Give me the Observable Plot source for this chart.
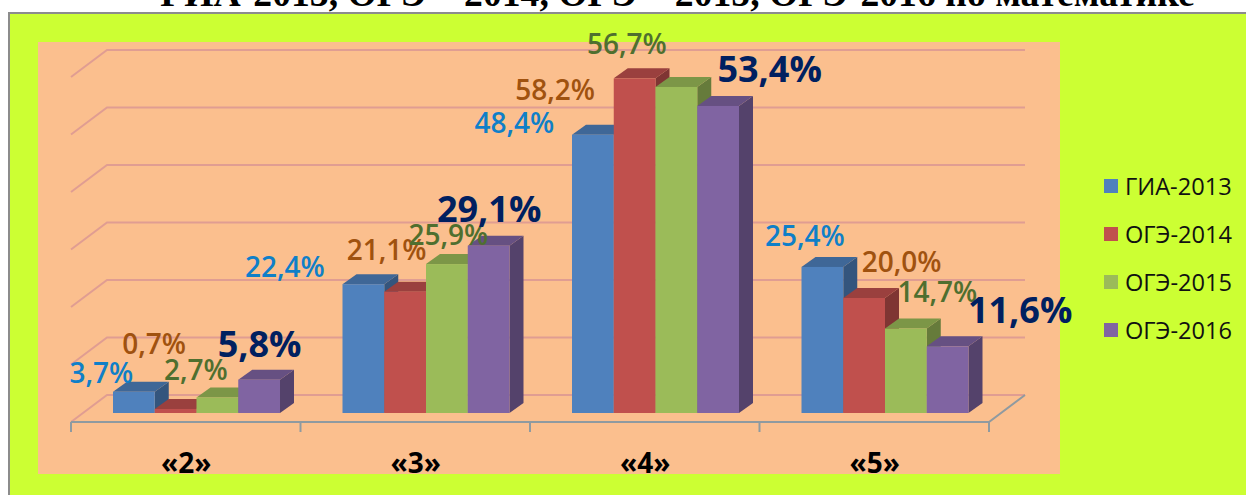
<!DOCTYPE html>
<html>
<head>
<meta charset="utf-8">
<script src="https://cdn.jsdelivr.net/npm/d3@7"></script>
<script src="https://cdn.jsdelivr.net/npm/@observablehq/plot@0.6"></script>
<style>
html,body{margin:0;padding:0;background:#fff;}
#page{position:relative;width:1246px;height:495px;overflow:hidden;}
#title{position:absolute;left:0;width:1355px;top:-29px;text-align:center;font:bold 37.7px "Liberation Serif",serif;color:#000;white-space:nowrap;}
#frame{position:absolute;left:8px;top:12px;width:1240px;height:490px;background:#ccff33;border:2px solid #8c8c8c;box-sizing:border-box;}
#panel{position:absolute;left:38px;top:42px;width:1022px;height:432px;background:#fbbf8e;}
#chart{position:absolute;left:0;top:0;}
#chart svg{background:transparent;}
#legend{position:absolute;left:1104px;top:162px;font:23.6px "Open Sans",sans-serif;color:#111;}
#legend div{display:flex;align-items:center;height:48px;}
#legend i{display:block;width:14px;height:14px;margin-right:7px;}
</style>
</head>
<body>
<div id="page">
  <div id="title">ГИА-2013, ОГЭ – 2014, ОГЭ – 2015, ОГЭ-2016 по математике</div>
  <div id="frame"></div>
  <div id="panel"></div>
  <div id="chart"></div>
  <div id="legend"></div>
</div>
<script>
const grades = ["«2»", "«3»", "«4»", "«5»"];
const seriesNames = ["ГИА-2013", "ОГЭ-2014", "ОГЭ-2015", "ОГЭ-2016"];
const gia2013 = [3.7, 22.4, 48.4, 25.4];
const oge2014 = [0.7, 21.1, 58.2, 20.0];
const oge2015 = [2.7, 25.9, 56.7, 14.7];
const oge2016 = [5.8, 29.1, 53.4, 11.6];
const gridTicks = [10, 20, 30, 40, 50, 60, 0];

const barColors = ["#4f81bd", "#c0504d", "#9bbb59", "#8064a2"];
const labelColors = ["#0f7fc8", "#a0520f", "#4f6f2f", "#002060"];
// label displacement from the top of its bar, by series then grade
const labelShift = [
  [[-33, -18], [-79, -17], [-79, -11], [-18, -30]],
  [[-22, -64], [-19, -41], [-80, 12], [37, -35]],
  [[-22, -27], [1, -29], [-50, -42], [31, -36]],
  [[0, -35], [0, -36], [51, -36], [72, -35]]
];

const rows = [gia2013, oge2014, oge2015, oge2016].flatMap((vals, s) =>
  vals.map((value, g) => ({grade: grades[g], series: seriesNames[s], value, s, g})));

const shade = (c, k) => { const r = d3.rgb(c); return d3.rgb(r.r * k, r.g * k, r.b * k).formatHex(); };
const DX = 14, DY = 10;       // bar depth
const BX = 36, BY = 27;       // floor depth
const LIFT = 18;              // back wall sits this far above the bars' base

function withDepth(index, scales, values, dims, ctx, next) {
  const g = next(index, scales, values, dims, ctx);
  g.querySelectorAll("rect").forEach(rect => {
    const x = +rect.getAttribute("x"), y = +rect.getAttribute("y");
    const w = +rect.getAttribute("width"), h = +rect.getAttribute("height");
    const fill = rect.getAttribute("fill");
    const add = (d, color) => {
      const p = document.createElementNS("http://www.w3.org/2000/svg", "path");
      p.setAttribute("d", d);
      p.setAttribute("fill", color);
      rect.parentNode.insertBefore(p, rect);
    };
    add(`M${x + w},${y}l${DX},${-DY}v${h}l${-DX},${DY}z`, shade(fill, 0.66));
    add(`M${x},${y}l${DX},${-DY}h${w}l${-DX},${DY}z`, shade(fill, 0.8));
  });
  return g;
}

// inside a facet the dimensions describe one band, so the whole floor is band × grades
const bandOf = dims => dims.width - dims.marginLeft - dims.marginRight;

function gridWalls(index, scales, values, dims) {
  const g = d3.create("svg:g").attr("fill", "none").attr("stroke", "#e09d92").attr("stroke-width", 2);
  const x0 = dims.marginLeft, x1 = x0 + bandOf(dims) * grades.length;
  for (const i of index) {
    const y = values.y[i] - LIFT;
    g.append("path").attr("d", `M${x0},${y + BY}L${x0 + BX},${y}H${x1 + BX}`);
  }
  return g.node();
}

function floorAxis(index, scales, values, dims) {
  const g = d3.create("svg:g").attr("fill", "none").attr("stroke", "#8f9aa0").attr("stroke-width", 2);
  const step = bandOf(dims), x0 = dims.marginLeft, x1 = x0 + step * grades.length;
  const y = values.y[index[0]] - LIFT + BY;
  g.append("path").attr("d", `M${x0},${y}H${x1}L${x1 + BX},${y - BY}`);
  for (let k = 0; k <= grades.length; k++)
    g.append("path").attr("d", `M${x0 + k * step},${y}v10`);
  return g.node();
}

const labelMarks = rows.map(d => Plot.text([d], {
  fx: "grade", x: "series", y: "value",
  text: r => r.value.toFixed(1).replace(".", ",") + "%",
  fill: labelColors[d.s],
  fontSize: d.s === 3 ? 36 : 28,
  fontWeight: d.s === 3 ? 700 : 600,
  fontFamily: "'Open Sans', sans-serif",
  dx: labelShift[d.s][d.g][0],
  dy: labelShift[d.s][d.g][1]
}));

const chart = Plot.plot({
  width: 1246,
  height: 495,
  marginLeft: 71,
  marginRight: 257,
  marginTop: 40,
  marginBottom: 73,
  style: {background: "transparent"},
  fx: {domain: grades, padding: 0, round: false, axis: null},
  x: {domain: seriesNames, range: [113, 280], padding: 0, round: false, axis: null},
  y: {domain: [0, 60], range: [413, 68], axis: null},
  color: {domain: seriesNames, range: barColors},
  marks: [
    Plot.ruleY(gridTicks, {fx: () => grades[0], y: d => d, render: gridWalls}),
    Plot.ruleY([0], {fx: () => grades[0], y: d => d, render: floorAxis}),
    Plot.barY(rows, {fx: "grade", x: "series", y1: () => 0, y2: "value", fill: "series", render: withDepth}),
    Plot.axisFx({anchor: "bottom", tickSize: 0, tickPadding: 31, label: null,
      fontSize: 28, fontWeight: 700, fontFamily: "'Open Sans', sans-serif", fill: "#000"}),
    ...labelMarks
  ]
});
document.getElementById("chart").appendChild(chart);

const legend = d3.select("#legend");
seriesNames.forEach((name, i) => {
  const row = legend.append("div");
  row.append("i").style("background", barColors[i]);
  row.append("span").text(name);
});
</script>
</body>
</html>
